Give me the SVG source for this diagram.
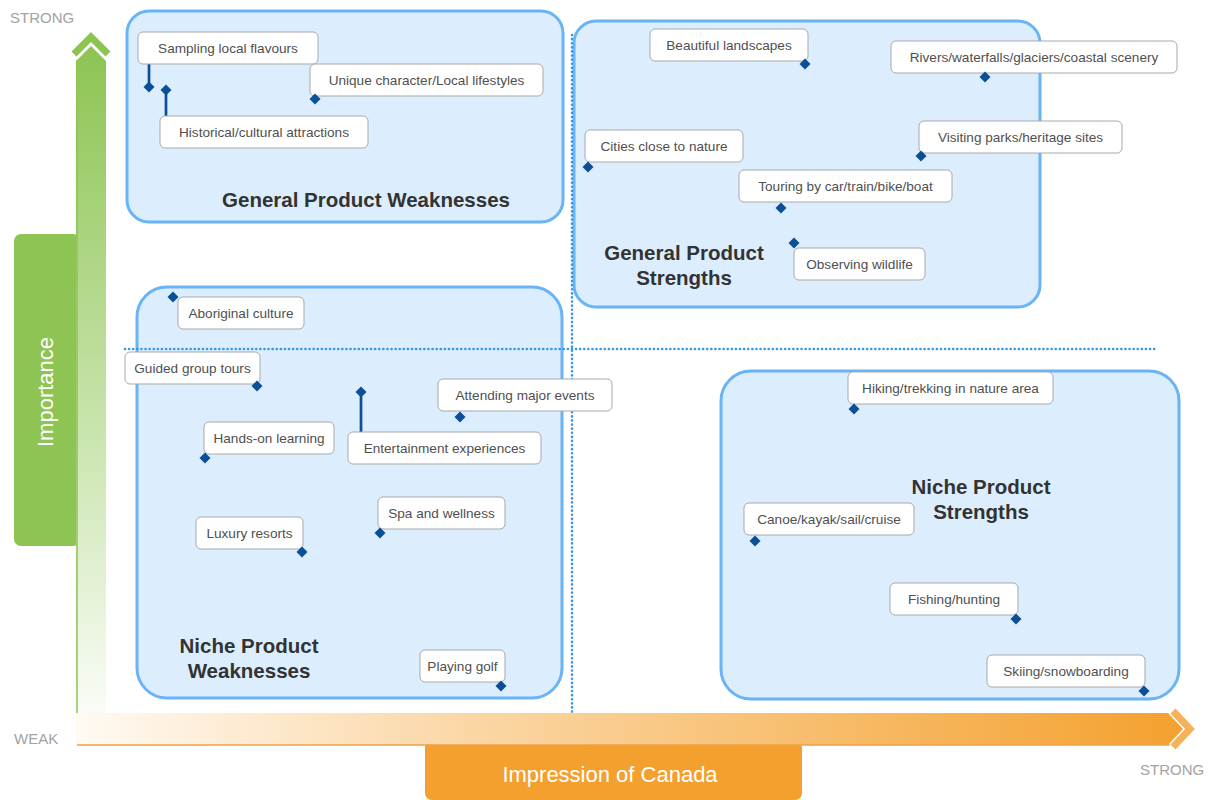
<svg xmlns="http://www.w3.org/2000/svg" width="1209" height="800" viewBox="0 0 1209 800">
<defs>
<linearGradient id="gG" x1="0" y1="45" x2="0" y2="745" gradientUnits="userSpaceOnUse">
<stop offset="0" stop-color="#8cc452"/><stop offset="0.55" stop-color="#c9e4ad"/><stop offset="1" stop-color="#ffffff"/>
</linearGradient>
<linearGradient id="gO" x1="76" y1="0" x2="1185" y2="0" gradientUnits="userSpaceOnUse">
<stop offset="0" stop-color="#fffaf3"/><stop offset="0.35" stop-color="#fbd7a6"/><stop offset="1" stop-color="#f4a12f"/>
</linearGradient>
<path id="dm" d="M0,-5.5 L5.5,0 L0,5.5 L-5.5,0Z" fill="#0b4f96"/>
</defs>
<style>
.quad{fill:#dcedfd;stroke:#69b4f6;stroke-width:3}
.box{fill:#ffffff;stroke:#a9a9a9;stroke-width:1}
.lbl{font-family:"Liberation Sans",Arial,sans-serif;font-size:13.6px;fill:#505050;text-anchor:middle}
.ttl{font-family:"Liberation Sans",Arial,sans-serif;font-size:20.5px;font-weight:bold;fill:#333333;text-anchor:middle}
.ax{font-family:"Liberation Sans",Arial,sans-serif;font-size:15px;fill:#a3a3a3}
.axt{font-family:"Liberation Sans",Arial,sans-serif;font-size:22px;fill:#ffffff;text-anchor:middle}
.dot{stroke:#3a98e2;stroke-width:2.6;stroke-dasharray:0.1 4;stroke-linecap:round;fill:none}
.stem{stroke:#0b4f96;stroke-width:2.7;fill:none}
</style>
<rect width="1209" height="800" fill="#ffffff"/>

<g id="axes">
<rect x="14" y="234" width="66" height="312" rx="7" fill="#8dc453"/>
<polygon points="76,61 91,46 106,61 106,745 76,745" fill="url(#gG)"/>
<polyline points="74,54 91,37 108,54" fill="none" stroke="#8cc452" stroke-width="7"/>
<line x1="77" y1="60" x2="77" y2="745" stroke="#8cc452" stroke-width="1.5"/>
<rect x="425" y="740" width="377" height="60" rx="7" fill="#f4a02e"/>
<polygon points="76,713 1168,713 1183,729 1168,745 76,745" fill="url(#gO)"/>
<polyline points="1173,711 1190,729 1173,747" fill="none" stroke="#f6b25a" stroke-width="7"/>
<line x1="77" y1="745" x2="1170" y2="745" stroke="#eea04a" stroke-width="1.5"/>
<text class="axt" transform="translate(53,392) rotate(-90)">Importance</text>
<text class="axt" x="610" y="782">Impression of Canada</text>
<text class="ax" x="10" y="23">STRONG</text>
<text class="ax" x="14" y="744">WEAK</text>
<text class="ax" x="1140" y="775">STRONG</text>
</g>

<g id="quad-gpw">
<rect class="quad" x="127" y="11" width="436" height="211" rx="22"/>
<text class="ttl" x="366" y="207">General Product Weaknesses</text>
</g>
<g id="quad-gps">
<rect class="quad" x="574" y="21" width="466" height="286" rx="22"/>
<text class="ttl" x="684" y="260">General Product</text>
<text class="ttl" x="684" y="285">Strengths</text>
</g>
<g id="quad-npw">
<rect class="quad" x="137" y="287" width="425" height="411" rx="30"/>
<text class="ttl" x="249" y="653">Niche Product</text>
<text class="ttl" x="249" y="678">Weaknesses</text>
</g>
<g id="quad-nps">
<rect class="quad" x="721" y="371" width="458" height="328" rx="30"/>
<text class="ttl" x="981" y="494">Niche Product</text>
<text class="ttl" x="981" y="519">Strengths</text>
</g>

<g id="dividers">
<line class="dot" x1="572" y1="35" x2="572" y2="712"/>
<line class="dot" x1="125" y1="349" x2="1157" y2="349"/>
</g>

<g id="connectors">
<line class="stem" x1="149" y1="64" x2="149" y2="86"/>
<line class="stem" x1="166" y1="92" x2="166" y2="116"/>
<line class="stem" x1="361" y1="394" x2="361" y2="432"/>
</g>

<g id="n-sampling"><rect class="box" x="138" y="32" width="180" height="32" rx="5"/><text class="lbl" x="228" y="53">Sampling local flavours</text><use href="#dm" x="149" y="87"/></g>
<g id="n-unique"><rect class="box" x="310" y="64" width="233" height="32" rx="5"/><text class="lbl" x="426.5" y="85">Unique character/Local lifestyles</text><use href="#dm" x="315" y="99"/></g>
<g id="n-historical"><rect class="box" x="160" y="116" width="208" height="32" rx="5"/><text class="lbl" x="264" y="137">Historical/cultural attractions</text><use href="#dm" x="166" y="90"/></g>
<g id="n-beautiful"><rect class="box" x="650" y="29" width="158" height="32" rx="5"/><text class="lbl" x="729" y="50">Beautiful landscapes</text><use href="#dm" x="805" y="64"/></g>
<g id="n-rivers"><rect class="box" x="891" y="41" width="286" height="32" rx="5"/><text class="lbl" x="1034" y="62">Rivers/waterfalls/glaciers/coastal scenery</text><use href="#dm" x="985" y="77"/></g>
<g id="n-cities"><rect class="box" x="585" y="130" width="158" height="32" rx="5"/><text class="lbl" x="664" y="151">Cities close to nature</text><use href="#dm" x="588" y="167"/></g>
<g id="n-visiting"><rect class="box" x="919" y="121" width="203" height="32" rx="5"/><text class="lbl" x="1020.5" y="142">Visiting parks/heritage sites</text><use href="#dm" x="921" y="156"/></g>
<g id="n-touring"><rect class="box" x="739" y="170" width="213" height="32" rx="5"/><text class="lbl" x="845.5" y="191">Touring by car/train/bike/boat</text><use href="#dm" x="781" y="208"/></g>
<g id="n-observing"><rect class="box" x="794" y="248" width="131" height="32" rx="5"/><text class="lbl" x="859.5" y="269">Observing wildlife</text><use href="#dm" x="794" y="243"/></g>
<g id="n-aboriginal"><rect class="box" x="178" y="297" width="126" height="32" rx="5"/><text class="lbl" x="241" y="318">Aboriginal culture</text><use href="#dm" x="173" y="297"/></g>
<g id="n-guided"><rect class="box" x="125" y="352" width="135" height="32" rx="5"/><text class="lbl" x="192.5" y="373">Guided group tours</text><use href="#dm" x="257" y="386"/></g>
<g id="n-handson"><rect class="box" x="204" y="422" width="130" height="32" rx="5"/><text class="lbl" x="269" y="443">Hands-on learning</text><use href="#dm" x="205" y="458"/></g>
<g id="n-entertainment"><rect class="box" x="348" y="432" width="193" height="32" rx="5"/><text class="lbl" x="444.5" y="453">Entertainment experiences</text><use href="#dm" x="361" y="392"/></g>
<g id="n-attending"><rect class="box" x="438" y="379" width="174" height="32" rx="5"/><text class="lbl" x="525" y="400">Attending major events</text><use href="#dm" x="460" y="417"/></g>
<g id="n-luxury"><rect class="box" x="196" y="517" width="107" height="32" rx="5"/><text class="lbl" x="249.5" y="538">Luxury resorts</text><use href="#dm" x="302" y="552"/></g>
<g id="n-spa"><rect class="box" x="378" y="497" width="127" height="32" rx="5"/><text class="lbl" x="441.5" y="518">Spa and wellness</text><use href="#dm" x="380" y="533"/></g>
<g id="n-golf"><rect class="box" x="420" y="650" width="85" height="32" rx="5"/><text class="lbl" x="462.5" y="671">Playing golf</text><use href="#dm" x="501" y="686"/></g>
<g id="n-hiking"><rect class="box" x="848" y="372" width="205" height="32" rx="5"/><text class="lbl" x="950.5" y="393">Hiking/trekking in nature area</text><use href="#dm" x="854" y="409"/></g>
<g id="n-canoe"><rect class="box" x="744" y="503" width="170" height="32" rx="5"/><text class="lbl" x="829" y="524">Canoe/kayak/sail/cruise</text><use href="#dm" x="755" y="541"/></g>
<g id="n-fishing"><rect class="box" x="890" y="583" width="128" height="32" rx="5"/><text class="lbl" x="954" y="604">Fishing/hunting</text><use href="#dm" x="1016" y="619"/></g>
<g id="n-skiing"><rect class="box" x="987" y="655" width="158" height="32" rx="5"/><text class="lbl" x="1066" y="676">Skiing/snowboarding</text><use href="#dm" x="1144" y="691"/></g>
</svg>
